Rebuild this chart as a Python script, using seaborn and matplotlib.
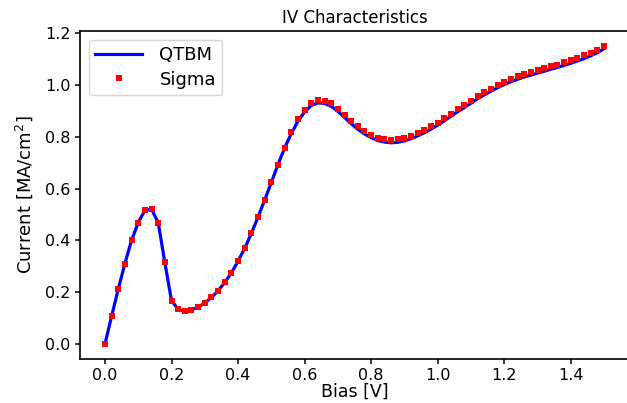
import matplotlib
matplotlib.use("Agg")
import matplotlib.pyplot as plt
import seaborn as sns
import pandas as pd

OUTPUT_FILE = "out.png"

# bias points [V]
bias = [
    0.00, 0.02, 0.04, 0.06, 0.08, 0.10, 0.12, 0.14, 0.16, 0.18,
    0.20, 0.22, 0.24, 0.26, 0.28, 0.30, 0.32, 0.34, 0.36, 0.38,
    0.40, 0.42, 0.44, 0.46, 0.48, 0.50, 0.52, 0.54, 0.56, 0.58,
    0.60, 0.62, 0.64, 0.66, 0.68, 0.70, 0.72, 0.74, 0.76, 0.78,
    0.80, 0.82, 0.84, 0.86, 0.88, 0.90, 0.92, 0.94, 0.96, 0.98,
    1.00, 1.02, 1.04, 1.06, 1.08, 1.10, 1.12, 1.14, 1.16, 1.18,
    1.20, 1.22, 1.24, 1.26, 1.28, 1.30, 1.32, 1.34, 1.36, 1.38,
    1.40, 1.42, 1.44, 1.46, 1.48, 1.50,
]

# current density [MA/cm^2], QTBM solver
current_qtbm = [
    0.000, 0.108, 0.212, 0.311, 0.401, 0.469, 0.516, 0.521, 0.469, 0.315,
    0.168, 0.134, 0.127, 0.132, 0.143, 0.158, 0.180, 0.206, 0.238, 0.275,
    0.320, 0.370, 0.427, 0.490, 0.556, 0.624, 0.693, 0.757, 0.813, 0.860,
    0.896, 0.921, 0.931, 0.929, 0.918, 0.898, 0.875, 0.851, 0.829, 0.811,
    0.797, 0.786, 0.780, 0.777, 0.779, 0.784, 0.793, 0.804, 0.816, 0.830,
    0.845, 0.862, 0.880, 0.897, 0.913, 0.930, 0.947, 0.962, 0.976, 0.990,
    1.002, 1.013, 1.022, 1.031, 1.038, 1.046, 1.053, 1.061, 1.068, 1.076,
    1.084, 1.093, 1.102, 1.113, 1.125, 1.140,
]

# current density [MA/cm^2], Sigma (self-energy) solver
current_sigma = [
    0.000, 0.108, 0.212, 0.311, 0.401, 0.469, 0.516, 0.521, 0.469, 0.315,
    0.168, 0.134, 0.127, 0.132, 0.143, 0.158, 0.180, 0.206, 0.238, 0.275,
    0.320, 0.370, 0.427, 0.490, 0.556, 0.624, 0.693, 0.757, 0.817, 0.867,
    0.905, 0.931, 0.941, 0.939, 0.929, 0.909, 0.886, 0.862, 0.840, 0.822,
    0.808, 0.796, 0.790, 0.787, 0.790, 0.795, 0.804, 0.814, 0.826, 0.840,
    0.855, 0.872, 0.890, 0.907, 0.923, 0.940, 0.957, 0.972, 0.986, 1.000,
    1.012, 1.024, 1.033, 1.042, 1.049, 1.057, 1.065, 1.073, 1.079, 1.087,
    1.095, 1.105, 1.114, 1.125, 1.137, 1.151,
]


def main():
    df = pd.DataFrame({
        "bias": bias,
        "QTBM": current_qtbm,
        "Sigma": current_sigma,
    })

    plt.rcParams["font.family"] = ["DejaVu Sans"]
    fig = plt.figure(figsize=(6.27, 4.03), dpi=100)
    # axes run a little past the right edge, as in the reference
    ax = fig.add_axes([80 / 627, 44 / 403, 549 / 627, 328 / 403])

    sns.lineplot(data=df, x="bias", y="QTBM", ax=ax, color="blue",
                 linewidth=2.3, label="QTBM", estimator=None, sort=False)
    ax.plot(df["bias"], df["Sigma"], linestyle="none", marker="s",
            markersize=4.2, color="red", markeredgewidth=0, label="Sigma")

    ax.set_title("IV Characteristics", fontsize=12)
    ax.set_xlabel("Bias [V]", fontsize=12.5, labelpad=-0.5)
    ax.set_ylabel("Current [MA/cm$^2$]", fontsize=13, labelpad=7)
    ax.set_xticks([0.0, 0.2, 0.4, 0.6, 0.8, 1.0, 1.2, 1.4])
    ax.set_yticks([0.0, 0.2, 0.4, 0.6, 0.8, 1.0, 1.2])
    ax.tick_params(labelsize=11.5, width=1.1)
    ax.tick_params(axis="x", pad=3)
    for spine in ax.spines.values():
        spine.set_linewidth(1.2)

    ax.legend(loc="upper left", fontsize=13, handlelength=2.6,
              handletextpad=0.95, labelspacing=0.35, borderpad=0.35)

    fig.savefig(OUTPUT_FILE, dpi=100)
    plt.close(fig)


if __name__ == "__main__":
    main()
